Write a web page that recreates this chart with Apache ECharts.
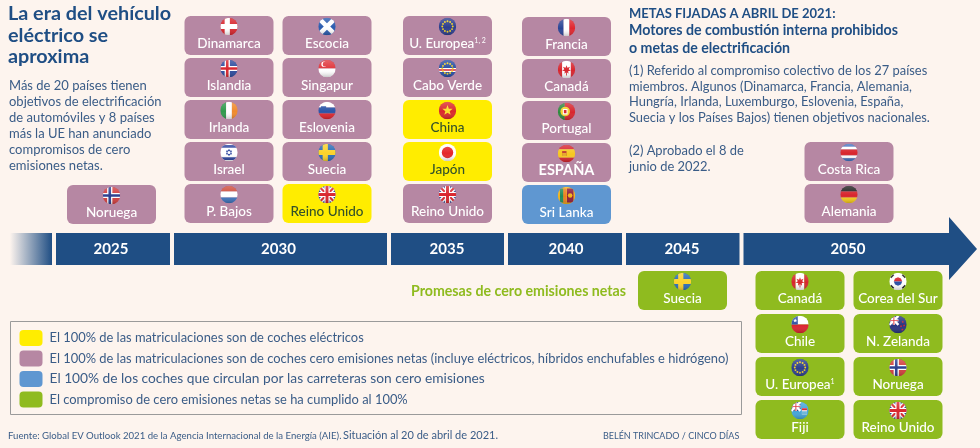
<!DOCTYPE html>
<html><head><meta charset="utf-8">
<style>html,body{margin:0;padding:0;background:#fdf4ee}#c{width:980px;height:448px}</style>
<script src="https://cdn.jsdelivr.net/npm/echarts@6/dist/echarts.min.js"></script>
</head><body><div id="c"></div>
<script>
// ---------- DATA ----------
const years = ['2025','2030','2035','2040','2045','2050'];
const targets2025 = ['Noruega'];
const targets2030a = ['Dinamarca','Islandia','Irlanda','Israel','P. Bajos'];
const targets2030b = ['Escocia','Singapur','Eslovenia','Suecia','Reino Unido'];
const targets2035 = ['U. Europea','Cabo Verde','China','Japón','Reino Unido'];
const targets2040 = ['Francia','Canadá','Portugal','ESPAÑA','Sri Lanka'];
const targets2050 = ['Costa Rica','Alemania'];
const pledges2045 = ['Suecia'];
const pledges2050a = ['Canadá','Chile','U. Europea','Fiji'];
const pledges2050b = ['Corea del Sur','N. Zelanda','Noruega','Reino Unido'];
const electricOnly = ['2030/Reino Unido','2035/China','2035/Japón'];
const roadFleet = ['2040/Sri Lanka'];
const legendLabels = [
  'El 100% de las matriculaciones son de coches eléctricos',
  'El 100% de las matriculaciones son de coches cero emisiones netas (incluye eléctricos, híbridos enchufables e hidrógeno)',
  'El 100% de los coches que circulan por las carreteras son cero emisiones',
  'El compromiso de cero emisiones netas se ha cumplido al 100%'
];
const titleText = 'La era del vehículo\neléctrico se\naproxima';
const introText = 'Más de 20 países tienen\nobjetivos de electrificación\nde automóviles y 8 países\nmás la UE han anunciado\ncompromisos de cero\nemisiones netas.';
const metasHead = 'METAS FIJADAS A ABRIL DE 2021:';
const metasText = 'Motores de combustión interna prohibidos\no metas de electrificación';
const note1Text = '(1) Referido al compromiso colectivo de los 27 países\nmiembros. Algunos (Dinamarca, Francia, Alemania,\nHungría, Irlanda, Luxemburgo, Eslovenia, España,\nSuecia y los Países Bajos) tienen objetivos nacionales.';
const note2Text = '(2) Aprobado el 8 de\njunio de 2022.';
const pledgeText = 'Promesas de cero emisiones netas';
const sourceText = 'Fuente: Global EV Outlook 2021 de la Agencia Internacional de la Energía (AIE).';
const statusText = 'Situación al 20 de abril de 2021.';
const creditText = 'BELÉN TRINCADO / CINCO DÍAS';

// ---------- STYLE & LAYOUT ----------
const BG='#fdf4ee', NAVY='#1f4e84', INK='#3a5c87';
const COL={yellow:'#ffed00',pink:'#b687a3',blue:'#5f97d1',green:'#8fbb1f'};
const FONT='Lato', W=89, H=39, PITCH=42;
const segX={'2025':[56,170],'2030':[174,387],'2035':[391,504],'2040':[508,622],'2045':[626,739.5],'2050':[743.5,949]};
const yearLabelX={'2025':111,'2030':278.5,'2035':447,'2040':566,'2045':682,'2050':848};
const up=[ // columns standing on the timeline: names, left, bottom
  [targets2025,'2025',67,224],[targets2030a,'2030',184.5,223],[targets2030b,'2030',282.5,223],
  [targets2035,'2035',403,223],[targets2040,'2040',522,224],[targets2050,'2050',804.5,223]];
const down=[ // columns hanging below the timeline: names, year, left, top
  [pledges2045,'2045',638,271],[pledges2050a,'2050',755.5,271],[pledges2050b,'2050',853.5,271]];
const NOTE={'2035/U. Europea':'1, 2','2050/U. Europea':'1'};

// Flags: primitives in a unit circle
const R=(a,b,c,d,f)=>({t:'r',a,b,c,d,f}), C=(a,b,r,f)=>({t:'c',a,b,r,f}), P=(p,f)=>({t:'p',p,f});
const hs=(cs,ws)=>{ws=ws||cs.map(()=>1);const s=ws.reduce((x,y)=>x+y);let y=-1;return cs.map((c,i)=>{const h=2*ws[i]/s,o=R(-1,y,1,y+h,c);y+=h;return o;});};
const vs=(cs,ws)=>{ws=ws||cs.map(()=>1);const s=ws.reduce((x,y)=>x+y);let x=-1;return cs.map((c,i)=>{const h=2*ws[i]/s,o=R(x,-1,x+h,1,c);x+=h;return o;});};
const cross=(cx,cy,w,f)=>[R(-1,cy-w,1,cy+w,f),R(cx-w,-1,cx+w,1,f)];
const nordic=(bg,o,i,cx)=>{cx=cx===undefined?-.2:cx;return [R(-1,-1,1,1,bg),...cross(cx,0,.3,o),...(i?cross(cx,0,.15,i):[])];};
const star=(cx,cy,r,f,n,inner)=>{n=n||5;inner=inner||.42;const p=[];for(let i=0;i<n*2;i++){const a=-Math.PI/2+i*Math.PI/n,q=i%2?r*inner:r;p.push([cx+q*Math.cos(a),cy+q*Math.sin(a)]);}return P(p,f);};
const band=(x0,y0,x1,y1,w,f)=>{const dx=x1-x0,dy=y1-y0,l=Math.hypot(dx,dy),nx=-dy/l*w,ny=dx/l*w;return P([[x0+nx,y0+ny],[x1+nx,y1+ny],[x1-nx,y1-ny],[x0-nx,y0-ny]],f);};
const union=()=>[R(-1,-1,1,1,'#28408f'),band(-1,-1,1,1,.28,'#fff'),band(-1,1,1,-1,.28,'#fff'),band(-1,-1,1,1,.12,'#d8262e'),band(-1,1,1,-1,.12,'#d8262e'),...cross(0,0,.3,'#fff'),...cross(0,0,.17,'#d8262e')];
const canton=(bg)=>[R(-1,-1,1,1,bg),R(-1,-1,.05,.05,'#28408f'),band(-1,-1,.05,.05,.14,'#fff'),band(-1,.05,.05,-1,.14,'#fff'),R(-1,-.6,.05,-.35,'#fff'),R(-.6,-1,-.35,.05,'#fff'),R(-1,-.53,.05,-.42,'#d8262e'),R(-.53,-1,-.42,.05,'#d8262e')];
const ring=()=>{const a=[];for(let i=0;i<12;i++){const t=i*Math.PI/6;a.push(C(.6*Math.cos(t),.6*Math.sin(t),.11,'#f4d21f'));}return a;};
const FLAGS={
 'Noruega':nordic('#d23f3f','#fff','#2b3f8f'),
 'Dinamarca':nordic('#d8262e','#fff',null),
 'Islandia':nordic('#2d4c9e','#fff','#d8262e'),
 'Irlanda':vs(['#2f9a4c','#fff','#f08a2d']),
 'Israel':[R(-1,-1,1,1,'#fff'),R(-1,-.85,1,-.55,'#2f47a0'),R(-1,.55,1,.85,'#2f47a0'),star(0,0,.42,'#2f47a0',6,.6),C(0,0,.18,'#fff')],
 'P. Bajos':hs(['#cf4d3d','#fff','#3f74bd']),
 'Escocia':[R(-1,-1,1,1,'#2a5cb0'),band(-1,-1,1,1,.26,'#fff'),band(-1,1,1,-1,.26,'#fff')],
 'Singapur':[...hs(['#e0373d','#fff']),C(-.35,-.5,.3,'#fff'),C(-.22,-.5,.28,'#e0373d')],
 'Eslovenia':[...hs(['#fff','#2c55a8','#e0262e']),P([[-.7,-.5],[-.1,-.5],[-.1,.05],[-.4,.3],[-.7,.05]],'#2c55a8')],
 'Suecia':nordic('#2d6db5','#fbd22a',null),
 'Reino Unido':union(),
 'U. Europea':[R(-1,-1,1,1,'#2d3f8e'),...ring()],
 'Cabo Verde':[R(-1,-1,1,1,'#2a4fa5'),R(-1,-.05,1,.4,'#fff'),R(-1,.1,1,.25,'#d8262e'),...ring()],
 'China':[R(-1,-1,1,1,'#db2b2b'),star(0,0,.62,'#fbe12a')],
 'Japón':[R(-1,-1,1,1,'#fff'),C(0,0,.66,'#e5262b')],
 'Francia':vs(['#2a4596','#fff','#e0262e']),
 'Canadá':[...vs(['#d8262e','#fff','#d8262e'],[1,2,1]),star(0,.02,.52,'#d8262e',7,.5),R(-.05,.3,.05,.7,'#d8262e')],
 'Portugal':[...vs(['#2f8a3e','#d8262e'],[2,3]),C(-.15,0,.55,'#f5d22f'),R(-.42,-.3,.12,.35,'#fff'),R(-.3,-.18,0,.2,'#d8262e')],
 'ESPAÑA':[...hs(['#d8262e','#f7c71f','#d8262e'],[1,2,1]),R(-.5,-.3,0,.3,'#c0392b'),R(-.5,-.05,0,.3,'#e5a82e')],
 'Sri Lanka':[R(-1,-1,1,1,'#f2b41b'),R(-.75,-.8,-.35,.8,'#1f8c5c'),R(-.35,-.8,-.02,.8,'#ef7d1f'),R(.05,-.8,.8,.8,'#8e1b3a'),C(.42,0,.27,'#f2b41b')],
 'Costa Rica':hs(['#4476c4','#fff','#d8262e','#fff','#4476c4'],[1,1,2,1,1]),
 'Alemania':hs(['#222','#d8262e','#f8cc1b']),
 'Corea del Sur':[R(-1,-1,1,1,'#fff'),P([[-.48,0],[.48,0],[.34,-.34],[0,-.48],[-.34,-.34]],'#d8262e'),P([[-.48,0],[.48,0],[.34,.34],[0,.48],[-.34,.34]],'#2a4fa5'),band(-.85,-.45,-.5,-.8,.1,'#222'),band(.5,-.8,.85,-.45,.1,'#222'),band(-.85,.45,-.5,.8,.1,'#222'),band(.5,.8,.85,.45,.1,'#222')],
 'Chile':[...hs(['#fff','#dc2530']),R(-1,-1,-.25,0,'#2a4fa5'),star(-.55,-.45,.25,'#fff')],
 'N. Zelanda':[...canton('#28337f'),star(.55,-.3,.16,'#e0262e'),star(.35,.2,.16,'#e0262e'),star(.7,.1,.16,'#e0262e'),star(.5,.6,.16,'#e0262e')],
 'Fiji':[...canton('#45a5d8'),R(.22,-.25,.8,.5,'#fff'),R(.22,-.25,.8,-.03,'#d8262e'),R(.22,.1,.8,.5,'#6fb7d8')]
};
function flagEl(name,cx,cy,r){
  const kids=(FLAGS[name]||[]).map(o=>{
    if(o.t==='r')return{type:'rect',shape:{x:o.a*r,y:o.b*r,width:(o.c-o.a)*r,height:(o.d-o.b)*r},style:{fill:o.f}};
    if(o.t==='c')return{type:'circle',shape:{cx:o.a*r,cy:o.b*r,r:o.r*r},style:{fill:o.f}};
    return{type:'polygon',shape:{points:o.p.map(q=>[q[0]*r,q[1]*r])},style:{fill:o.f}};
  });
  kids.push({type:'circle',shape:{cx:0,cy:0,r:r},style:{fill:{type:'linear',x:0,y:0,x2:0,y2:1,colorStops:[{offset:0,color:'rgba(255,255,255,.22)'},{offset:.55,color:'rgba(255,255,255,0)'},{offset:1,color:'rgba(0,0,0,.22)'}]}}});
  return{type:'group',x:cx,y:cy,clipPath:{type:'circle',shape:{cx:0,cy:0,r:r}},children:kids};
}

// ---------- BUILD CHIPS ----------
const chips={yellow:[],pink:[],blue:[],green:[]};
up.forEach(([names,yr,left,bottom])=>names.forEach((n,i)=>{
  const key=yr+'/'+n, kind=electricOnly.includes(key)?'yellow':roadFleet.includes(key)?'blue':'pink';
  chips[kind].push({value:[left,bottom-H-(names.length-1-i)*PITCH],name:n,note:NOTE[key]});
}));
const downPitch=43;
down.forEach(([names,yr,left,top])=>names.forEach((n,i)=>{
  chips.green.push({value:[left,top+i*downPitch],name:n,note:NOTE[yr+'/'+n]});
}));
function chipSeries(name,kind,textColor){
  const list=chips[kind];
  return{type:'custom',name,coordinateSystem:'cartesian2d',clip:false,z:3,animation:false,silent:true,
    itemStyle:{color:COL[kind]},
    data:list.map(d=>({value:d.value,name:d.name})),
    renderItem(p,api){
      const d=list[p.dataIndex],o=api.coord([api.value(0),api.value(1)]),s=api.size([W,H]);
      return{type:'group',children:[
        {type:'rect',shape:{x:o[0],y:o[1],width:s[0],height:s[1],r:6},style:{fill:COL[kind]}},
        flagEl(d.name,o[0]+s[0]/2,o[1]+10.5,8.7),
        {type:'text',x:o[0]+s[0]/2,y:o[1]+27.5,style:{
          text:d.note?`{n|${d.name}}{s|${d.note}}`:`{n|${d.name}}`,
          align:'center',verticalAlign:'middle',
          rich:{n:{fontFamily:FONT,fontSize:d.name==='ESPAÑA'?14.5:13.5,fontWeight:d.name==='ESPAÑA'?700:500,fill:textColor,color:textColor},
                s:{fontFamily:FONT,fontSize:7,fill:textColor,color:textColor,padding:[0,0,6,0]}}}}
      ]};
    }};
}
// timeline series
const lead={x0:10,x1:52};
const timelineSeries={type:'custom',name:'timeline',coordinateSystem:'cartesian2d',clip:false,z:2,animation:false,silent:true,
  data:[[lead.x0,lead.x1]].concat(years.map(y=>[segX[y][0],segX[y][1]])),
  renderItem(p,api){
    const a=api.coord([api.value(0),233]),b=api.coord([api.value(1),265]),yr=years[p.dataIndex-1];
    const kids=[];
    if(p.dataIndex===0){
      kids.push({type:'rect',shape:{x:a[0],y:a[1],width:b[0]-a[0],height:b[1]-a[1]},style:{fill:{type:'linear',x:0,y:0,x2:1,y2:0,colorStops:[{offset:0,color:BG},{offset:1,color:NAVY}]}}});
    }else if(yr==='2050'){
      const t=api.coord([b[0],217]),tb=api.coord([b[0],280]),tip=api.coord([977,249]);
      kids.push({type:'polygon',shape:{points:[a,[b[0],a[1]],t,tip,tb,[b[0],b[1]],[a[0],b[1]]]},style:{fill:NAVY}});
    }else{
      kids.push({type:'rect',shape:{x:a[0],y:a[1],width:b[0]-a[0],height:b[1]-a[1]},style:{fill:NAVY}});
    }
    if(yr){
      kids.push({type:'text',x:api.coord([yearLabelX[yr],249])[0],y:249,style:{text:yr,align:'center',verticalAlign:'middle',fontFamily:FONT,fontSize:15,fontWeight:700,fill:'#fff'}});
    }
    return{type:'group',children:kids};
  }};
const txt=(text,x,y,size,lh,fill,weight,align)=>({type:'text',x,y,z:5,silent:true,style:{text,fontFamily:FONT,fontSize:size,lineHeight:lh,fill,fontWeight:weight||400,align:align||'left',verticalAlign:'top'}});

const chart=echarts.init(document.getElementById('c'),null,{renderer:'canvas'});
chart.setOption({
  backgroundColor:BG,animation:false,
  title:{text:titleText,left:8,top:3,padding:0,textStyle:{fontFamily:FONT,fontSize:19.8,fontWeight:700,lineHeight:21.5,color:NAVY}},
  grid:{left:0,right:0,top:0,bottom:0},
  xAxis:{type:'value',min:0,max:980,show:false},
  yAxis:{type:'value',min:0,max:448,inverse:true,show:false},
  legend:{orient:'vertical',left:19.5,top:330,itemWidth:23,itemHeight:16,itemGap:4.5,icon:'roundRect',selectedMode:false,padding:0,
    data:legendLabels,
    formatter:n=>n===legendLabels[2]?`{w|${n}}`:`{a|${n}}`,
    textStyle:{fontFamily:FONT,fontSize:13,color:INK,
      rich:{a:{fontFamily:FONT,fontSize:12.9,color:INK,padding:[0,0,0,2]},w:{fontFamily:FONT,fontSize:13.75,color:INK,padding:[0,0,0,2]}}}},
  tooltip:{show:false},
  graphic:{elements:[
    {type:'rect',shape:{x:10.5,y:321.5,width:731,height:93},z:1,silent:true,style:{fill:'none',stroke:'#9a9a9a',lineWidth:1}},
    txt(introText,9,78,13,16,INK),
    txt(metasHead,629,5,13,17,NAVY,700),
    txt(metasText,629,21.5,14.2,17.7,NAVY,700),
    txt(note1Text,629,63,12.9,15.7,INK),
    txt(note2Text,629,143,12.9,16,INK),
    txt(pledgeText,411,283,14.2,16,COL.green,700),
    txt(sourceText,8,430,9.6,12,INK),
    txt(statusText,343,429,11,13,INK),
    txt(creditText,603,430,9,12,INK)
  ]},
  series:[
    timelineSeries,
    chipSeries(legendLabels[0],'yellow','#33512a'),
    chipSeries(legendLabels[1],'pink','#fff'),
    chipSeries(legendLabels[2],'blue','#fff'),
    chipSeries(legendLabels[3],'green','#fff')
  ]
});
</script></body></html>
